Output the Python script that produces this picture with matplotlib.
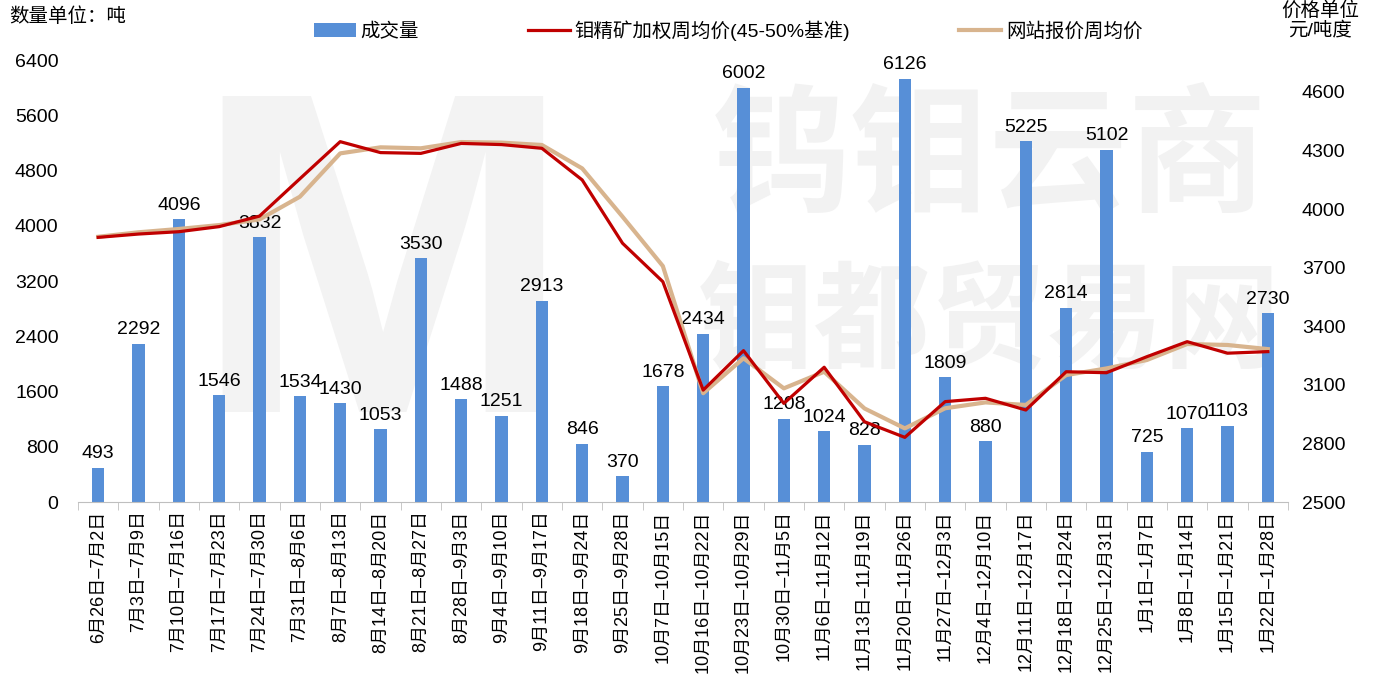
import matplotlib.pyplot as plt
import numpy as np

plt.rcParams['font.family'] = ['Liberation Sans', 'Noto Sans CJK SC', 'DejaVu Sans']

weeks = ['6月26日–7月2日', '7月3日–7月9日', '7月10日–7月16日', '7月17日–7月23日',
         '7月24日–7月30日', '7月31日–8月6日', '8月7日–8月13日', '8月14日–8月20日',
         '8月21日–8月27日', '8月28日–9月3日', '9月4日–9月10日', '9月11日–9月17日',
         '9月18日–9月24日', '9月25日–9月28日', '10月7日–10月15日', '10月16日–10月22日',
         '10月23日–10月29日', '10月30日–11月5日', '11月6日–11月12日', '11月13日–11月19日',
         '11月20日–11月26日', '11月27日–12月3日', '12月4日–12月10日', '12月11日–12月17日',
         '12月18日–12月24日', '12月25日–12月31日', '1月1日–1月7日', '1月8日–1月14日',
         '1月15日–1月21日', '1月22日–1月28日']

volume = [493, 2292, 4096, 1546, 3832, 1534, 1430, 1053, 3530, 1488, 1251, 2913,
          846, 370, 1678, 2434, 6002, 1208, 1024, 828, 6126, 1809, 880, 5225,
          2814, 5102, 725, 1070, 1103, 2730]

weighted_price = [3855, 3872, 3884, 3910, 3964, 4155, 4345, 4289, 4285, 4336, 4330, 4311,
                  4149, 3825, 3628, 3073, 3275, 3005, 3190, 2911, 2831, 3014, 3031, 2971,
                  3167, 3162, 3244, 3321, 3262, 3270]

site_price = [3858, 3881, 3898, 3918, 3947, 4063, 4285, 4316, 4311, 4343, 4340, 4328,
              4208, 3961, 3708, 3057, 3236, 3082, 3167, 2979, 2877, 2980, 3010, 2997,
              3150, 3184, 3227, 3309, 3304, 3283]

x = np.arange(len(weeks))

fig = plt.figure(figsize=(13.74, 6.82), dpi=100)
ax = fig.add_axes([0.0568, 0.2639, 0.8806, 0.6481])
ax.set_zorder(1)
ax.patch.set_visible(False)

# faint watermark
fig.text(0.278, 0.57, 'M', fontsize=330, color='#F3F3F3', ha='center', va='center',
         fontweight='bold', zorder=0)
fig.text(0.72, 0.76, '钨钼云商', fontsize=100, color='#F2F2F2', ha='center', va='center',
         fontweight='bold', zorder=0)
fig.text(0.72, 0.52, '钼都贸易网', fontsize=84, color='#F2F2F2', ha='center', va='center',
         fontweight='bold', zorder=0)

bars = ax.bar(x, volume, width=0.31, color='#578FD7', label='成交量', zorder=2)
for xi, v in zip(x, volume):
    ax.annotate(str(v), (xi, v), xytext=(0, 4), textcoords='offset points',
                ha='center', va='bottom', fontsize=14, zorder=5)

ax.set_xlim(-0.5, len(weeks) - 0.5)
ax.set_ylim(0, 6400)
ax.set_yticks(np.arange(0, 6401, 800))
ax.tick_params(axis='y', length=0, labelsize=14, pad=14)
ax.set_xticks(x)
ax.set_xticklabels(weeks, rotation=90, fontsize=13)
ax.tick_params(axis='x', length=0, pad=6)
ax.set_xticks(np.arange(-0.5, len(weeks), 1), minor=True)
ax.tick_params(axis='x', which='minor', length=6, color='#BFBFBF')
for s in ['top', 'right', 'left']:
    ax.spines[s].set_visible(False)
ax.spines['bottom'].set_color('#BFBFBF')

ax2 = ax.twinx()
ax2.set_zorder(2)
ax2.plot(x, site_price, color='#D8B48E', lw=3.0, label='网站报价周均价', zorder=3)
ax2.plot(x, weighted_price, color='#C00000', lw=2.3, label='钼精矿加权周均价(45-50%基准)', zorder=4)
ax2.set_ylim(2500, 4763)
ax2.set_yticks(np.arange(2500, 4601, 300))
ax2.tick_params(axis='y', length=0, labelsize=14, pad=10)
for s in ['top', 'right', 'left', 'bottom']:
    ax2.spines[s].set_visible(False)

h1, l1 = ax.get_legend_handles_labels()
h2, l2 = ax2.get_legend_handles_labels()
handles = [h1[0], h2[1], h2[0]]
labels = [l1[0], l2[1], l2[0]]
fig.legend(handles, labels, loc='center', bbox_to_anchor=(0.53, 0.955), ncol=3,
           frameon=False, fontsize=14, columnspacing=5.6, handlelength=2.15,
           handletextpad=0.25, handleheight=0.7)

fig.text(0.007, 0.975, '数量单位：吨', fontsize=14, ha='left', va='center')
fig.text(0.961, 0.97, '价格单位\n元/吨度', fontsize=14, ha='center', va='center',
         linespacing=1.15)

fig.savefig('out.png', dpi=100)
